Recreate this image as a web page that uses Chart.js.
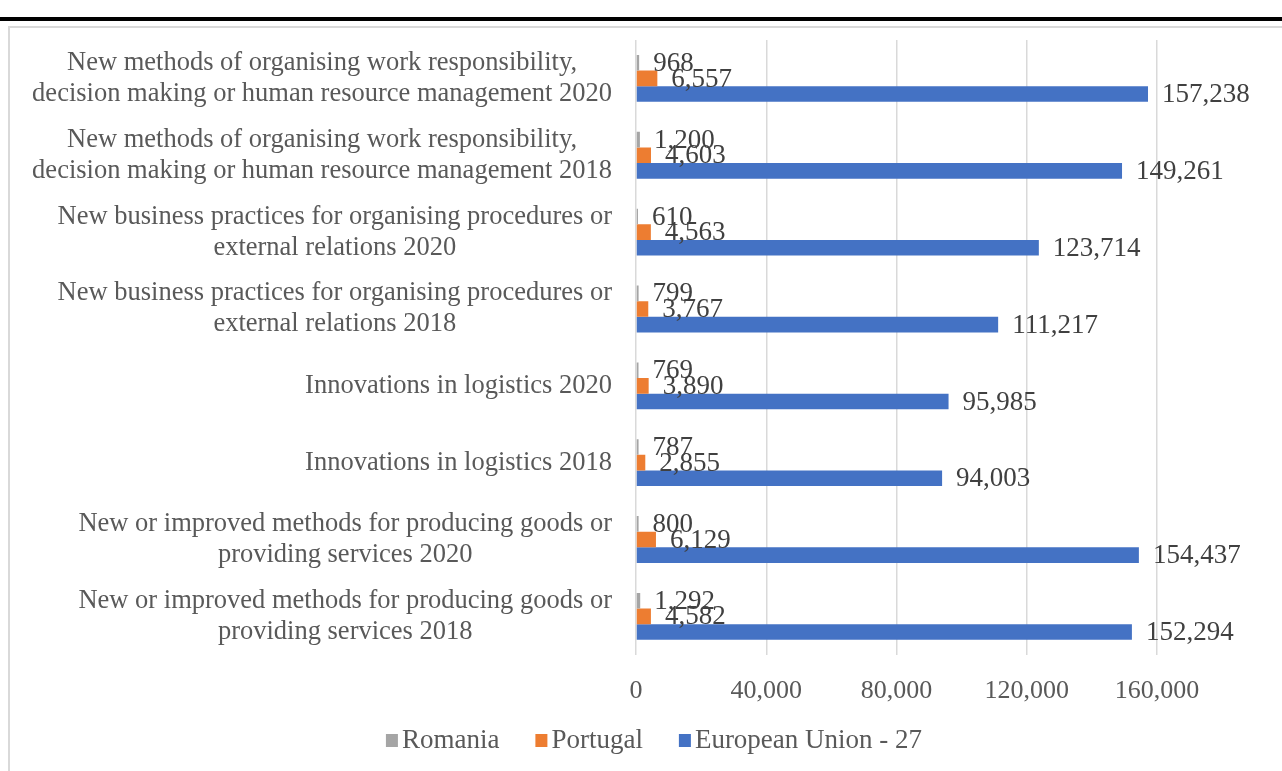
<!DOCTYPE html>
<html>
<head>
<meta charset="utf-8">
<script src="https://cdn.jsdelivr.net/npm/chart.js@4.4.0/dist/chart.umd.min.js"></script>
<style>
  html, body { margin: 0; padding: 0; background: #fff; overflow: hidden; }
  #topRule { position: absolute; left: 0; top: 17px; width: 1282px; height: 4px; background: #000; }
  #frame { position: absolute; left: 8px; top: 26px; width: 1290px; height: 760px; border: 2px solid #d9d9d9; box-sizing: border-box; }
  #wrap { position: absolute; left: 0; top: 0; width: 1282px; height: 771px; }
</style>
</head>
<body>
<div id="topRule"></div>
<div id="frame"></div>
<div id="wrap"><canvas id="chart"></canvas></div>
<script>
// Categories, top to bottom
const categories = [
    ['New methods of organising work responsibility,', 'decision making or human resource management 2020'],
    ['New methods of organising work responsibility,', 'decision making or human resource management 2018'],
    ['New business practices for organising procedures or', 'external relations 2020'],
    ['New business practices for organising procedures or', 'external relations 2018'],
    ['Innovations in logistics 2020'],
    ['Innovations in logistics 2018'],
    ['New or improved methods for producing goods or', 'providing services 2020'],
    ['New or improved methods for producing goods or', 'providing services 2018']
];

const romania = [968, 1200, 610, 799, 769, 787, 800, 1292];
const portugal = [6557, 4603, 4563, 3767, 3890, 2855, 6129, 4582];
const eu27 = [157238, 149261, 123714, 111217, 95985, 94003, 154437, 152294];

const xTicks = [0, 40000, 80000, 120000, 160000];

const FONT = '"Liberation Serif", "Times New Roman", serif';
const LABEL_GREY = '#595959';
const VALUE_GREY = '#404040';

// Value labels just past the end of each bar
const valueLabels = {
    id: 'valueLabels',
    afterDatasetsDraw(chart) {
        const ctx = chart.ctx;
        ctx.save();
        ctx.font = '27px ' + FONT;
        ctx.fillStyle = VALUE_GREY;
        ctx.textAlign = 'left';
        ctx.textBaseline = 'middle';
        chart.data.datasets.forEach((ds, di) => {
            const meta = chart.getDatasetMeta(di);
            meta.data.forEach((bar, i) => {
                ctx.fillText(ds.data[i].toLocaleString('en-US'), bar.x + 14, bar.y + 1);
            });
        });
        ctx.restore();
    }
};

// Category labels: block right aligned to the axis, lines centred in the block
const categoryLabels = {
    id: 'categoryLabels',
    afterDraw(chart) {
        const ctx = chart.ctx;
        const yScale = chart.scales.y;
        const right = chart.chartArea.left - 24;
        const lineH = 31;
        ctx.save();
        ctx.font = '26.5px ' + FONT;
        ctx.fillStyle = LABEL_GREY;
        ctx.textAlign = 'center';
        ctx.textBaseline = 'middle';
        categories.forEach((lines, i) => {
            const w = Math.max(...lines.map(l => ctx.measureText(l).width));
            const cx = right - w / 2;
            const cy = yScale.getPixelForValue(i);
            const y0 = cy - (lines.length - 1) * lineH / 2;
            lines.forEach((l, k) => ctx.fillText(l, cx, y0 + k * lineH));
        });
        ctx.restore();
    }
};

// Legend centred under the whole frame, small square keys
const bottomLegend = {
    id: 'bottomLegend',
    afterDraw(chart) {
        const ctx = chart.ctx;
        const box = 12, gap = 4, spacing = 36;
        const cy = 740;
        ctx.save();
        ctx.font = '27px ' + FONT;
        const items = chart.data.datasets.map(ds => ({
            text: ds.label,
            color: ds.backgroundColor,
            w: ctx.measureText(ds.label).width
        }));
        const total = items.reduce((s, it) => s + box + gap + it.w, 0) + spacing * (items.length - 1);
        let x = 654 - total / 2;
        ctx.textAlign = 'left';
        ctx.textBaseline = 'middle';
        items.forEach(it => {
            ctx.fillStyle = it.color;
            ctx.fillRect(x, cy - 6, box, 13);
            ctx.fillStyle = LABEL_GREY;
            ctx.fillText(it.text, x + box + gap, cy + 1);
            x += box + gap + it.w + spacing;
        });
        ctx.restore();
    }
};

new Chart(document.getElementById('chart'), {
    type: 'bar',
    data: {
        labels: categories.map(c => c.join(' ')),
        datasets: [
            { label: 'Romania', data: romania, backgroundColor: '#a5a5a5' },
            { label: 'Portugal', data: portugal, backgroundColor: '#ed7d31' },
            { label: 'European Union - 27', data: eu27, backgroundColor: '#4472c4' }
        ]
    },
    options: {
        indexAxis: 'y',
        responsive: true,
        maintainAspectRatio: false,
        animation: false,
        datasets: { bar: { categoryPercentage: 0.61, barPercentage: 1 } },
        layout: { padding: { left: 636, right: 125, top: 40, bottom: 43 } },
        plugins: {
            tooltip: { enabled: false },
            legend: { display: false }
        },
        scales: {
            x: {
                min: 0,
                max: 160000,
                afterBuildTicks: (scale) => { scale.ticks = xTicks.map(v => ({ value: v })); },
                grid: { color: '#d9d9d9', lineWidth: 1.5, drawTicks: false },
                border: { display: false },
                ticks: {
                    font: { family: FONT, size: 26 },
                    color: LABEL_GREY,
                    padding: 21,
                    callback: (v) => v.toLocaleString('en-US')
                }
            },
            y: {
                grid: { display: false },
                border: { display: false },
                ticks: { display: false },
                afterFit: (scale) => { scale.width = 0; }
            }
        }
    },
    plugins: [valueLabels, categoryLabels, bottomLegend]
});
</script>
</body>
</html>
